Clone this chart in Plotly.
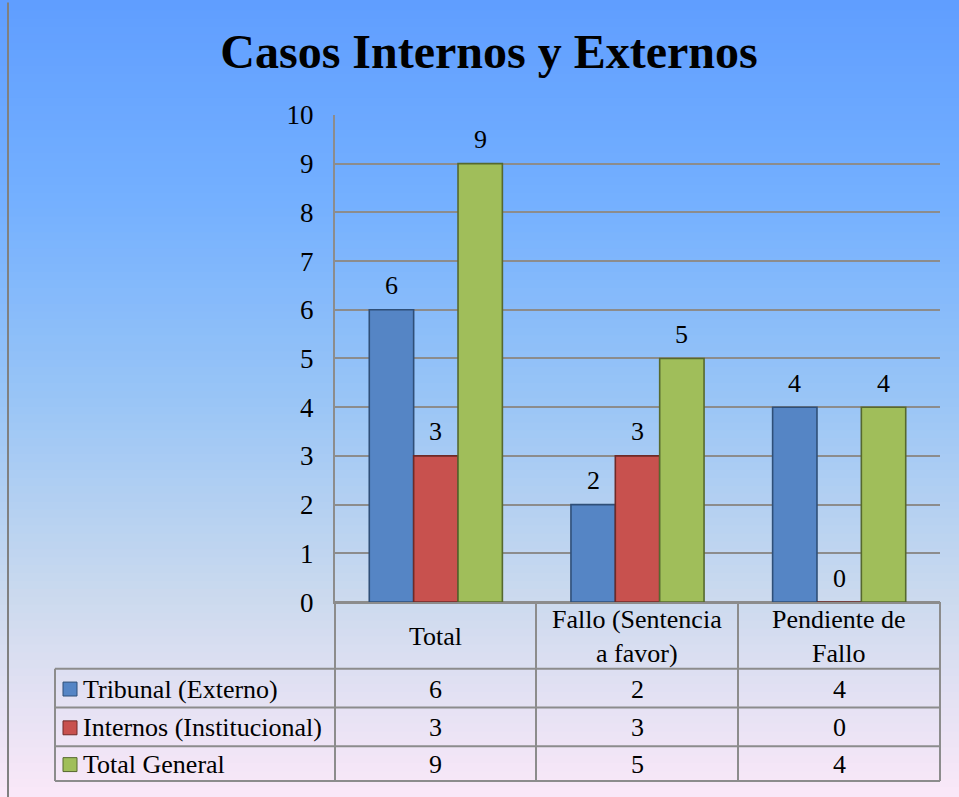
import plotly.graph_objects as go

# ---- data ----
categories = ["Total", "Fallo (Sentencia a favor)", "Pendiente de Fallo"]
header_labels = ["Total", "Fallo (Sentencia<br>a favor)", "Pendiente de<br>Fallo"]
series_names = ["Tribunal (Externo)", "Internos (Institucional)", "Total General"]
tribunal = [6, 2, 4]
internos = [3, 3, 0]
total_general = [9, 5, 4]
y_ticks = [0, 1, 2, 3, 4, 5, 6, 7, 8, 9, 10]

series_values = [tribunal, internos, total_general]
colors = ["#5585c5", "#c8514e", "#a0be5a"]
edge_colors = ["#2f4f78", "#6e2a28", "#56692e"]

W, H = 959, 797
OFF, SC = 12.5, 0.968          # layout helpers: target px -> figure px

def px(x):
    return x / W
def py(y):
    yy = (y - OFF) / SC
    return 1 - yy / H

FONT = "Liberation Serif"
GRID = "#8c8c8c"
TXT = 26

# plot area in target pixels
PL, PR, PT, PB = 335, 940, 113, 603
BARGAP = 0.34
bar_px = (PR - PL) / len(categories) * (1 - BARGAP) / len(series_names)

fig = go.Figure()
for name, vals, c, ec in zip(series_names, series_values, colors, edge_colors):
    fig.add_trace(go.Bar(
        x=categories, y=vals, name=name,
        marker=dict(color=c, line=dict(color=ec, width=1.6)),
        showlegend=False,
    ))

annotations = []
# value labels above bars (anchored at data coordinates)
for k, vals in enumerate(series_values):
    for cat, v in zip(categories, vals):
        annotations.append(dict(x=cat, y=v, xref="x", yref="y", text=str(v), showarrow=False,
                                xshift=(k - 1) * bar_px, yshift=24, xanchor="center", yanchor="middle",
                                font=dict(family=FONT, size=TXT, color="black")))

shapes = []
# gradient background strips
stops = [(0, (96, 158, 255)), (200, (116, 176, 255)), (400, (153, 197, 246)),
         (600, (204, 218, 238)), (797, (250, 232, 248))]
def col_at(y):
    for (y0, c0), (y1, c1) in zip(stops[:-1], stops[1:]):
        if y0 <= y <= y1:
            t = (y - y0) / (y1 - y0)
            return "rgb(%d,%d,%d)" % tuple(round(a + (b - a) * t) for a, b in zip(c0, c1))
    return "rgb(%d,%d,%d)" % stops[-1][1]
N = 100
for i in range(N):
    y0 = i * 797 / N
    y1 = (i + 1) * 797 / N + 0.8
    shapes.append(dict(type="rect", xref="paper", yref="paper", layer="below",
                       x0=0, x1=1.01, y0=py(y1 + 25 * (i == N - 1)), y1=py(y0 - 25 * (i == 0)),
                       fillcolor=col_at((y0 + y1) / 2), line=dict(width=0)))
# outer border (left)
shapes.append(dict(type="line", xref="paper", yref="paper", x0=px(8), x1=px(8), y0=py(0), y1=py(820),
                   line=dict(color="#808080", width=2)))

# data table
TL = 55
col_edges = [335, 536, 738, 940]
row_edges = [603, 670, 709, 748, 783]
for x in col_edges:
    shapes.append(dict(type="line", xref="paper", yref="paper", x0=px(x), x1=px(x),
                       y0=py(row_edges[0]), y1=py(row_edges[-1]),
                       line=dict(color=GRID, width=2)))
shapes.append(dict(type="line", xref="paper", yref="paper", x0=px(TL), x1=px(TL),
                   y0=py(row_edges[1]), y1=py(row_edges[-1]), line=dict(color=GRID, width=2)))
for y in row_edges[1:]:
    shapes.append(dict(type="line", xref="paper", yref="paper", x0=px(TL), x1=px(PR),
                       y0=py(y), y1=py(y), line=dict(color=GRID, width=2)))

# header
for i, lab in enumerate(header_labels):
    cx = (col_edges[i] + col_edges[i + 1]) / 2
    annotations.append(dict(xref="paper", yref="paper", x=px(cx), y=py((row_edges[0] + row_edges[1]) / 2 + 1),
                            text=lab, showarrow=False, xanchor="center", yanchor="middle",
                            font=dict(family=FONT, size=TXT, color="black")))
# rows
for r, (name, vals, c, ec) in enumerate(zip(series_names, series_values, colors, edge_colors)):
    cy = (row_edges[r + 1] + row_edges[r + 2]) / 2 + 1
    shapes.append(dict(type="rect", xref="paper", yref="paper", x0=px(63), x1=px(77),
                       y0=py(cy + 7), y1=py(cy - 7), fillcolor=c, line=dict(color=ec, width=1)))
    annotations.append(dict(xref="paper", yref="paper", x=px(81), y=py(cy), text=name, showarrow=False,
                            xanchor="left", yanchor="middle",
                            font=dict(family=FONT, size=TXT, color="black")))
    for i, v in enumerate(vals):
        cx = (col_edges[i] + col_edges[i + 1]) / 2
        annotations.append(dict(xref="paper", yref="paper", x=px(cx), y=py(cy), text=str(v),
                                showarrow=False, xanchor="center", yanchor="middle",
                                font=dict(family=FONT, size=TXT, color="black")))

fig.update_layout(
    width=W, height=H,
    margin=dict(l=0, r=0, t=0, b=0),
    paper_bgcolor="#ffffff",
    plot_bgcolor="rgba(0,0,0,0)",
    barmode="group", bargap=BARGAP, bargroupgap=0,
    title=dict(text="<b>Casos Internos y Externos</b>", x=px(489), xanchor="center",
               y=py(62), yanchor="middle", font=dict(family=FONT, size=48, color="black")),
    xaxis=dict(domain=[px(PL), px(PR)], range=[-0.5, 2.5], showticklabels=False,
               showgrid=False, zeroline=False, showline=True, linecolor=GRID, linewidth=2,
               fixedrange=True),
    yaxis=dict(domain=[py(PB), py(PT)], range=[0, 10], tickvals=y_ticks,
               tickfont=dict(family=FONT, size=27, color="black"),
               ticklabelstandoff=14,
               showgrid=True, gridcolor=GRID, gridwidth=2, zeroline=True, zerolinecolor=GRID,
               zerolinewidth=2, showline=True, linecolor=GRID, linewidth=2, ticks=""),
    shapes=shapes, annotations=annotations,
    font=dict(family=FONT),
)

post = (
    "document.documentElement.style.margin='0';"
    "document.body.style.margin='0';"
    "document.documentElement.style.overflow='hidden';"
    "document.body.style.overflow='hidden';"
    "document.documentElement.style.background="
    "'linear-gradient(#808080,#808080) 8px 3px / 100% 2px no-repeat,"
    " linear-gradient(#808080,#808080) 7px 3px / 2px 100% no-repeat,"
    " linear-gradient(#60a0ff, #fae8f8)';"
    "var gd=document.getElementById('{plot_id}');"
    "gd.style.position='fixed';gd.style.top='0px';gd.style.left='0px';"
)
fig.write_html("out.html", config={"displayModeBar": False}, post_script=post)
